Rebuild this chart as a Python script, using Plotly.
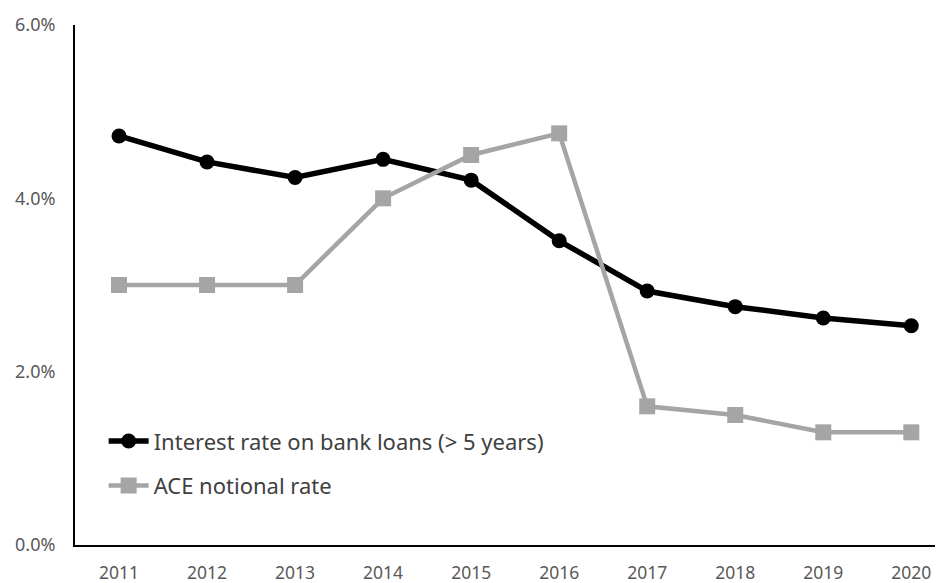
import plotly.graph_objects as go

years = ["2011", "2012", "2013", "2014", "2015", "2016", "2017", "2018", "2019", "2020"]
bank_loans = [4.72, 4.42, 4.24, 4.45, 4.21, 3.51, 2.93, 2.75, 2.62, 2.53]
ace_rate = [3.0, 3.0, 3.0, 4.0, 4.5, 4.75, 1.6, 1.5, 1.3, 1.3]
y_ticks = [0, 2, 4, 6]
y_tick_labels = ["0.0%", "2.0%", "4.0%", "6.0%"]

fig = go.Figure()
fig.add_trace(go.Scatter(
    x=years, y=bank_loans, name="Interest rate on bank loans (> 5 years)",
    mode="lines+markers", legendgroup="a",
    line=dict(color="black", width=5.5),
    marker=dict(symbol="circle", size=15, color="black"),
))
fig.add_trace(go.Scatter(
    x=years, y=ace_rate, name="ACE notional rate",
    mode="lines+markers", legendgroup="b",
    line=dict(color="#a5a5a5", width=4.5),
    marker=dict(symbol="square", size=16, color="#a5a5a5"),
))

fig.update_layout(
    width=935, height=575,
    margin=dict(l=67, r=0, t=17, b=38, autoexpand=False),
    paper_bgcolor="white", plot_bgcolor="white",
    font=dict(family="Noto Sans, Open Sans, sans-serif", color="#595959", size=15),
    showlegend=True,
    legend=dict(
        x=0.033, y=0.24, xanchor="left", yanchor="top",
        bgcolor="rgba(0,0,0,0)",
        font=dict(size=22, color="#404040"),
        itemwidth=40, tracegroupgap=13,
    ),
)
fig.update_xaxes(
    type="category", range=[-0.5, 9.36],
    showline=True, linecolor="black", linewidth=2,
    showgrid=False, ticks="", ticklabelstandoff=11,
    tickfont=dict(size=17.5, color="#595959"),
)
fig.update_yaxes(
    range=[0, 6], tickvals=y_ticks, ticktext=y_tick_labels,
    showline=True, linecolor="black", linewidth=2,
    showgrid=False, zeroline=False, ticks="", ticklabelstandoff=14,
    tickfont=dict(size=18, color="#595959"),
)

fig.write_html("out.html")
